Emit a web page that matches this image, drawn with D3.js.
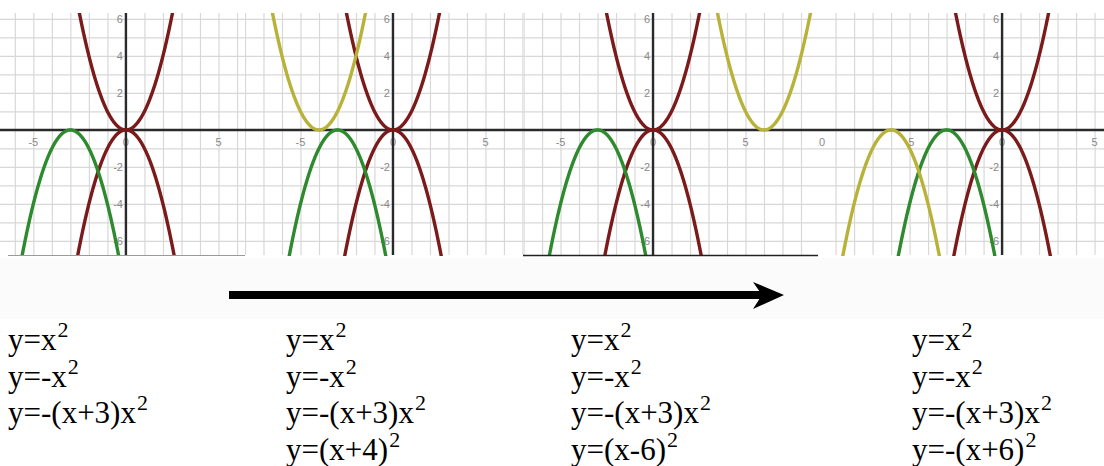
<!DOCTYPE html>
<html><head><meta charset="utf-8">
<script src="https://cdn.jsdelivr.net/npm/d3@7"></script>
<style>html,body{margin:0;padding:0;background:#fff;}svg{display:block;}</style>
</head><body>
<script>
// ---- data ----
const panelNames = ["p1", "p2", "p3", "p4"];
const panelXDomains = [[-6.8, 6.43], [-8, 7.03], [-7.03, 8.92], [-9.95, 5.51]];
const yDomain = [-6.76, 6.32];
const xTickValues = [-10, -5, 0, 5, 10];
const yTickValues = [-6, -4, -2, 2, 4, 6];
// curves: sign a and vertex h of y = a*(x-h)^2, per panel
const curveSeries = ["up", "down", "green", "shift"];
const curveSign =   { up: 1, down: -1, green: -1, shift: [null, 1, 1, -1] };
const curveVertex = { up: 0, down: 0, green: -3, shift: [null, -4, 6, -6] };
const equations = [
  ["y=x^2", "y=-x^2", "y=-(x+3)x^2"],
  ["y=x^2", "y=-x^2", "y=-(x+3)x^2", "y=(x+4)^2"],
  ["y=x^2", "y=-x^2", "y=-(x+3)x^2", "y=(x-6)^2"],
  ["y=x^2", "y=-x^2", "y=-(x+3)x^2", "y=-(x+6)^2"]
];

// ---- layout / style ----
const W = 1104, H = 466;
const panelPx = [[0, 245], [245, 523], [523, 818], [818, 1104]];
const plotTop = 13, plotBottom = 255;
const textX = [8, 286, 571, 912];
const rowBase = [350, 387, 423, 460];
const colors = { up: "#7a1a1a", down: "#7a1a1a", green: "#2e8a2e", shift: "#b8b23a" };
const serif = "'Liberation Serif', 'Times New Roman', Tinos, 'DejaVu Serif', serif";
const sans = "'Liberation Sans', Arial, sans-serif";

const svg = d3.select("body").append("svg").attr("width", W).attr("height", H);
svg.append("rect").attr("width", W).attr("height", H).attr("fill", "#fff");
svg.append("rect").attr("x", 0).attr("y", 258).attr("width", W).attr("height", 61).attr("fill", "#fbfbfb");

const y = d3.scaleLinear().domain(yDomain).range([plotBottom, plotTop]);

panelNames.forEach((name, i) => {
  const [L, R] = panelPx[i];
  const x = d3.scaleLinear().domain(panelXDomains[i]).range([L, R]);
  const g = svg.append("g");
  const clipId = "clip" + i;
  svg.append("clipPath").attr("id", clipId).append("rect")
    .attr("x", L).attr("y", plotTop).attr("width", R - L).attr("height", plotBottom - plotTop + 1);
  const inner = g.append("g").attr("clip-path", `url(#${clipId})`);
  inner.append("rect").attr("x", L).attr("y", plotTop).attr("width", R - L).attr("height", plotBottom - plotTop).attr("fill", "#fff");

  // grid
  const [d0, d1] = panelXDomains[i];
  const gx = d3.range(Math.ceil(d0), Math.floor(d1) + 1);
  const gy = d3.range(Math.ceil(yDomain[0]), Math.floor(yDomain[1]) + 1);
  inner.selectAll(".vg").data(gx).join("line")
    .attr("x1", d => x(d) + 0.5).attr("x2", d => x(d) + 0.5)
    .attr("y1", plotTop).attr("y2", plotBottom)
    .attr("stroke", "#d8d8d8").attr("stroke-width", 1.2);
  inner.selectAll(".hg").data(gy).join("line")
    .attr("x1", L).attr("x2", R)
    .attr("y1", d => y(d) + 0.5).attr("y2", d => y(d) + 0.5)
    .attr("stroke", "#d8d8d8").attr("stroke-width", 1.2);

  // tick labels
  const lab = inner.append("g");
  lab.selectAll(".xl").data(xTickValues.filter(d => x(d) >= L - 2 && x(d) <= R - 6)).join("text")
    .attr("x", d => x(d)).attr("y", y(0) + 16).attr("text-anchor", "middle")
    .style("font-family", sans).style("font-size", "11px").style("fill", "#8a8a8a").text(d => d);
  lab.selectAll(".yl").data(yTickValues).join("text")
    .attr("x", x(0) - 3).attr("y", d => y(d) + 4).attr("text-anchor", "end")
    .style("font-family", sans).style("font-size", "11px").style("fill", "#8a8a8a").text(d => d);

  // axes
  inner.append("line").attr("x1", L).attr("x2", R).attr("y1", y(0)).attr("y2", y(0))
    .attr("stroke", "#2a2a2a").attr("stroke-width", 2.4);
  inner.append("line").attr("x1", x(0)).attr("x2", x(0)).attr("y1", plotTop).attr("y2", plotBottom)
    .attr("stroke", "#2a2a2a").attr("stroke-width", 2.4);

  // curves
  const xs = d3.range(d0, d1 + 0.02, 0.02);
  const line = d3.line().x(d => x(d[0])).y(d => y(d[1]));
  curveSeries.forEach(s => {
    const a = Array.isArray(curveSign[s]) ? curveSign[s][i] : curveSign[s];
    const h = Array.isArray(curveVertex[s]) ? curveVertex[s][i] : curveVertex[s];
    if (a === null) return;
    const pts = xs.map(v => [v, a * (v - h) * (v - h)]).filter(p => p[1] > yDomain[0] - 1 && p[1] < yDomain[1] + 1);
    inner.append("path").datum(pts).attr("d", line).attr("fill", "none")
      .attr("stroke", colors[s]).attr("stroke-width", 3.4).attr("stroke-linejoin", "round");
  });

  // equations
  const tg = svg.append("g");
  equations[i].forEach((eq, r) => {
    const parts = eq.split("^");
    const t = tg.append("text").attr("x", textX[i]).attr("y", rowBase[r])
      .style("font-family", serif).style("font-size", "31px").style("fill", "#000");
    t.append("tspan").text(parts[0]);
    if (parts[1]) t.append("tspan").style("font-size", "22px").attr("dx", 1).attr("dy", -13).text(parts[1]);
  });
});

// panel bottom borders
svg.append("line").attr("x1", 8).attr("x2", 245).attr("y1", 255.5).attr("y2", 255.5).attr("stroke", "#999").attr("stroke-width", 1);
svg.append("line").attr("x1", 523).attr("x2", 818).attr("y1", 255.5).attr("y2", 255.5).attr("stroke", "#222").attr("stroke-width", 1.5);

// arrow
svg.append("line").attr("x1", 229).attr("x2", 765).attr("y1", 295).attr("y2", 295).attr("stroke", "#000").attr("stroke-width", 8);
svg.append("path").attr("d", "M753,282 L784,295 L753,309 L762,295 Z").attr("fill", "#000");
</script>
</body></html>
